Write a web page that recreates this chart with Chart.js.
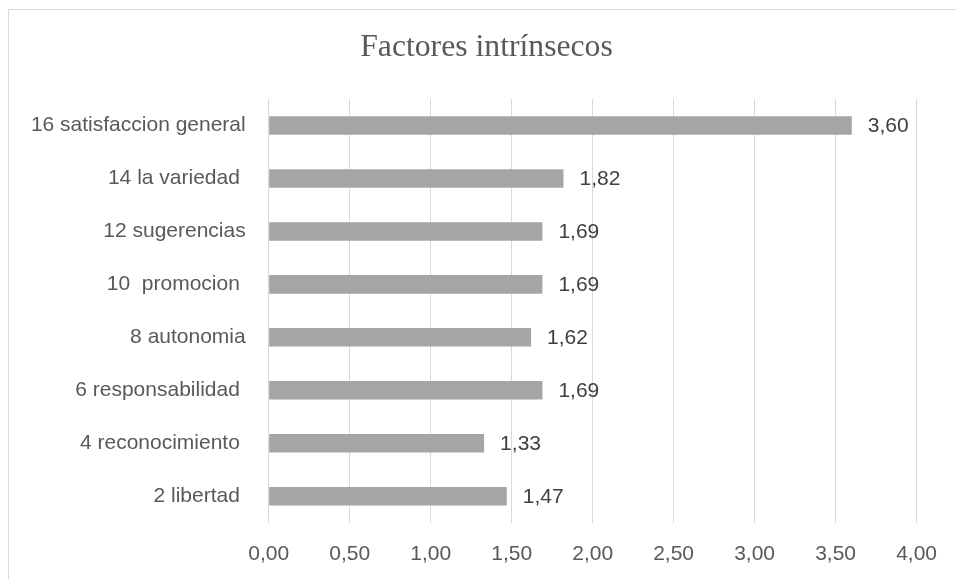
<!DOCTYPE html>
<html>
<head>
<meta charset="utf-8">
<script src="https://cdn.jsdelivr.net/npm/chart.js@4.4.1/dist/chart.umd.min.js"></script>
<style>
  html, body { margin: 0; padding: 0; background: #ffffff; }
  body { width: 956px; height: 579px; overflow: hidden; position: relative; }
  #frame { position: absolute; left: 8px; top: 9px; width: 980px; height: 600px; border: 1px solid #d9d9d9; box-sizing: border-box; }
  #wrap { position: absolute; left: 0; top: 0; width: 956px; height: 579px; }
</style>
</head>
<body>
<div id="frame"></div>
<div id="wrap"><canvas id="chart" width="956" height="579"></canvas></div>
<script>
// Factores intrínsecos: promedio por ítem
const TITLE = 'Factores intrínsecos';
const categories = [
  "16 satisfaccion general",
  "14 la variedad ",
  "12 sugerencias",
  "10  promocion ",
  "8 autonomia",
  "6 responsabilidad ",
  "4 reconocimiento ",
  "2 libertad "
];
const values = [3.60, 1.82, 1.69, 1.69, 1.62, 1.69, 1.33, 1.47];
const axisMin = 0;
const axisMax = 4;
const axisStep = 0.5;

const fmt = v => v.toFixed(2).replace('.', ',');
const SANS = "'Liberation Sans', Arial, sans-serif";
const SERIF = "'Liberation Serif', 'Times New Roman', serif";

// Title centred on the framed panel rather than on the canvas
const panelTitle = {
  id: 'panelTitle',
  afterDraw(chart) {
    const ctx = chart.ctx;
    ctx.save();
    ctx.font = "31.7px " + SERIF;
    ctx.fillStyle = '#595959';
    ctx.textAlign = 'center';
    ctx.textBaseline = 'middle';
    ctx.fillText(TITLE, 486.5, 48);
    ctx.restore();
  }
};

// Writes each bar's value just past its end
const valueLabels = {
  id: 'valueLabels',
  afterDatasetsDraw(chart) {
    const ctx = chart.ctx;
    const meta = chart.getDatasetMeta(0);
    ctx.save();
    ctx.font = "21px " + SANS;
    ctx.fillStyle = '#404040';
    ctx.textAlign = 'left';
    ctx.textBaseline = 'middle';
    meta.data.forEach((bar, i) => {
      ctx.fillText(fmt(values[i]), bar.x + 16, bar.y + 1);
    });
    ctx.restore();
  }
};

new Chart(document.getElementById('chart'), {
  type: 'bar',
  data: {
    labels: categories,
    datasets: [{
      data: values,
      backgroundColor: '#a5a5a5',
      borderWidth: 0,
      categoryPercentage: 1,
      barPercentage: 0.35
    }]
  },
  options: {
    indexAxis: 'y',
    responsive: false,
    animation: false,
    devicePixelRatio: 1,
    layout: { padding: { left: 0, right: 39.3, top: 99, bottom: 0 } },
    plugins: {
      legend: { display: false },
      tooltip: { enabled: false },
      title: { display: false }
    },
    scales: {
      x: {
        type: 'linear',
        min: axisMin,
        max: axisMax,
        afterFit(scale) { scale.height = 56.3; },
        ticks: {
          stepSize: axisStep,
          color: '#595959',
          font: { family: SANS, size: 21 },
          padding: 19,
          callback: v => fmt(v)
        },
        grid: { color: '#d9d9d9', lineWidth: 1, drawTicks: false },
        border: { display: false }
      },
      y: {
        type: 'category',
        afterFit(scale) { scale.width = 268.7; },
        ticks: {
          color: '#595959',
          font: { family: SANS, size: 21 },
          padding: 23
        },
        grid: { display: false, drawTicks: false },
        border: { display: false }
      }
    }
  },
  plugins: [valueLabels, panelTitle]
});
</script>
</body>
</html>
